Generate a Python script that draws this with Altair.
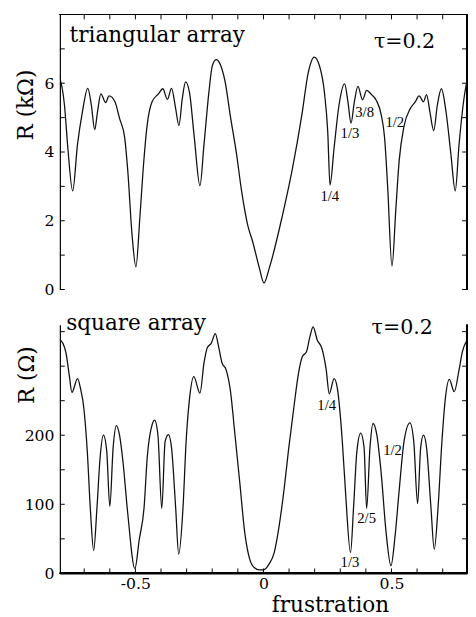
import altair as alt
import pandas as pd

# ---- data ----
tri_f = [-0.802, -0.777, -0.764, -0.745, -0.726, -0.707, -0.686, -0.672, -0.659, -0.648,
         -0.635, -0.616, -0.603, -0.58, -0.562, -0.542, -0.53, -0.513, -0.498, -0.483,
         -0.47, -0.454, -0.435, -0.41, -0.393, -0.375, -0.359, -0.343, -0.33, -0.317,
         -0.304, -0.289, -0.27, -0.248, -0.232, -0.213, -0.2, -0.185, -0.168, -0.149,
         -0.13, -0.105, -0.086, -0.061, -0.042, -0.016, 0.002, 0.023, 0.074, 0.112,
         0.15, 0.175, 0.198, 0.219, 0.238, 0.251, 0.26, 0.276, 0.295, 0.317,
         0.33, 0.342, 0.355, 0.369, 0.387, 0.403, 0.422, 0.441, 0.46, 0.473,
         0.485, 0.502, 0.517, 0.53, 0.549, 0.574, 0.593, 0.608, 0.625, 0.637,
         0.65, 0.665, 0.679, 0.695, 0.713, 0.732, 0.749, 0.764, 0.783, 0.796]
tri_r = [6.31, 5.36, 4.13, 2.87, 4.23, 5.17, 5.85, 5.36, 4.65, 5.17,
         5.69, 5.44, 5.63, 5.46, 4.98, 4.42, 3.47, 1.58, 0.66, 2.05,
         3.47, 4.79, 5.46, 5.69, 5.84, 5.53, 5.85, 5.27, 4.77, 5.55,
         6.04, 5.74, 4.42, 3.02, 4.23, 5.74, 6.5, 6.69, 6.54, 6.02,
         5.08, 3.94, 2.9, 1.86, 1.39, 0.63, 0.19, 0.63, 2.15, 3.47,
         5.08, 6.31, 6.76, 6.5, 5.74, 4.6, 3.04, 4.13, 5.36, 5.98,
         5.46, 4.84, 5.46, 5.91, 5.52, 5.79, 5.67, 5.5, 5.08, 4.42,
         3.0, 0.68, 2.33, 3.75, 4.75, 5.27, 5.46, 5.63, 5.46, 5.67,
         5.17, 4.62, 5.36, 5.84, 5.17, 3.94, 2.87, 4.23, 5.55, 6.12]

sq_f = [-0.802, -0.783, -0.771, -0.758, -0.748, -0.726, -0.714, -0.701, -0.688, -0.675,
        -0.663, -0.65, -0.638, -0.625, -0.612, -0.6, -0.587, -0.574, -0.562, -0.549,
        -0.53, -0.502, -0.485, -0.466, -0.454, -0.435, -0.425, -0.412, -0.397, -0.384,
        -0.371, -0.359, -0.343, -0.331, -0.314, -0.302, -0.289, -0.272, -0.248, -0.232,
        -0.219, -0.204, -0.188, -0.175, -0.162, -0.146, -0.13, -0.111, -0.092, -0.073,
        -0.054, -0.035, -0.016, 0.0, 0.023, 0.042, 0.061, 0.08, 0.099, 0.118,
        0.137, 0.152, 0.168, 0.181, 0.194, 0.21, 0.228, 0.245, 0.257, 0.276,
        0.289, 0.308, 0.321, 0.34, 0.352, 0.365, 0.38, 0.393, 0.403, 0.416,
        0.428, 0.443, 0.46, 0.479, 0.498, 0.514, 0.53, 0.549, 0.572, 0.587,
        0.602, 0.614, 0.625, 0.637, 0.654, 0.667, 0.682, 0.697, 0.71, 0.726,
        0.745, 0.764, 0.777, 0.796]
sq_r = [340, 333, 319, 286, 262, 282, 267, 238, 177, 87,
        33, 96, 167, 200, 177, 97, 182, 214, 200, 163,
        87, 7, 49, 96, 167, 215, 222, 200, 94, 191,
        201, 182, 96, 28, 96, 191, 252, 285, 261, 305,
        327, 333, 347, 328, 305, 295, 267, 200, 130, 59,
        21, 8, 5, 5, 14, 30, 68, 120, 182, 238,
        290, 314, 321, 342, 357, 338, 326, 295, 260, 282,
        267, 191, 115, 30, 96, 177, 203, 182, 94, 182,
        217, 200, 144, 59, 11, 54, 120, 191, 218, 191,
        101, 182, 200, 182, 96, 35, 96, 191, 252, 281,
        263, 295, 321, 338]

tri_lab_text = ["1/4", "1/3", "3/8", "1/2"]
tri_lab_f = [0.259, 0.338, 0.395, 0.513]
tri_lab_r = [2.72, 4.54, 5.16, 4.87]

sq_lab_text = ["1/4", "1/3", "2/5", "1/2"]
sq_lab_f = [0.247, 0.338, 0.403, 0.504]
sq_lab_r = [243, 16, 80, 179]

x_ticks = [-0.7, -0.6, -0.5, -0.4, -0.3, -0.2, -0.1, 0.0,
           0.1, 0.2, 0.3, 0.4, 0.5, 0.6, 0.7]
x_labels = [-0.5, 0.0, 0.5]
tri_y_ticks = [0, 1, 2, 3, 4, 5, 6, 7, 8]
tri_y_labels = [0, 2, 4, 6]
sq_y_ticks = [0, 50, 100, 150, 200, 250, 300, 350]
sq_y_labels = [0, 100, 200]

tri_titles = ["triangular array"]
tri_title_f = [-0.757]
tri_title_r = [7.4]
tri_tau_f = [0.551]
tri_tau_r = [7.2]
sq_titles = ["square array"]
sq_title_f = [-0.77]
sq_title_r = [362]
sq_tau_f = [0.542]
sq_tau_r = [355]

SERIF = "DejaVu Serif"
W = 416
TL = 5  # tick length (px)

xdom = alt.Scale(domain=[-0.795, 0.795], nice=False, zero=False)
tri_ydom = alt.Scale(domain=[0, 8], nice=False)
sq_ydom = alt.Scale(domain=[0, 360], nice=False)

tri_df = pd.DataFrame({"f": tri_f, "R": tri_r})
sq_df = pd.DataFrame({"f": sq_f, "R": sq_r})


def panel(df, ydom, yticks, ylabels, ytitle, title_x, title_y, top, lab, txt, tau, height):
    if top:
        xaxis = None
    else:
        xaxis = alt.Axis(orient="bottom", values=x_labels, ticks=False, labelOverlap=False,
                         labelFlush=False, labelPadding=3,
                         labelExpr="datum.value < 0 ? '-' + format(-datum.value, '.1~f') : format(datum.value, '.1~f')",
                         title="frustration", titleFontSize=22, titleX=276, titleY=32,
                         titleBaseline="middle", titleAlign="center")
    yaxis = alt.Axis(orient="left", values=ylabels, ticks=False, labelOverlap=False,
                     labelFlush=False, labelPadding=6, title=ytitle, titleFontSize=22,
                     titleX=title_x, titleY=title_y, titleBaseline="middle",
                     titleAlign="center", titleAngle=-90)

    line = alt.Chart(df).mark_line(color="#111", strokeWidth=1.3, interpolate="monotone",
                                   clip=True).encode(
        x=alt.X("f:Q", scale=xdom, axis=xaxis),
        y=alt.Y("R:Q", scale=ydom, axis=yaxis),
    )
    # inward ticks and frame
    xt = pd.DataFrame({"v": x_ticks})
    yt = pd.DataFrame({"v": yticks})
    if top:
        xtk = alt.Chart(xt).mark_rule(color="black", strokeWidth=1).encode(
            x=alt.X("v:Q", scale=xdom), y=alt.value(0), y2=alt.value(TL))
        hb = alt.Chart(xt).mark_rule(color="black", strokeWidth=1.2).encode(
            x=alt.value(0), x2=alt.value(W), y=alt.value(0))
    else:
        xtk = alt.Chart(xt).mark_rule(color="black", strokeWidth=1).encode(
            x=alt.X("v:Q", scale=xdom), y=alt.value(height), y2=alt.value(height - TL))
        hb = alt.Chart(xt).mark_rule(color="black", strokeWidth=1.2).encode(
            x=alt.value(0), x2=alt.value(W), y=alt.value(height))
    rb = alt.Chart(yt).mark_rule(color="black", strokeWidth=1.2).encode(
        x=alt.value(W), y=alt.value(0), y2=alt.value(height))
    ytl = alt.Chart(yt).mark_rule(color="black", strokeWidth=1).encode(
        y=alt.Y("v:Q", scale=ydom), x=alt.value(0), x2=alt.value(TL))
    ytr = alt.Chart(yt).mark_rule(color="black", strokeWidth=1).encode(
        y=alt.Y("v:Q", scale=ydom), x=alt.value(W), x2=alt.value(W - TL))

    labs = alt.Chart(pd.DataFrame(lab)).mark_text(
        font="Liberation Serif", fontSize=15, color="black", align="center", baseline="middle"
    ).encode(
        x=alt.X("f:Q", scale=xdom),
        y=alt.Y("R:Q", scale=ydom),
        text="t:N",
    )
    ttl = alt.Chart(pd.DataFrame(txt)).mark_text(
        font=SERIF, fontSize=22, color="black", align="left", baseline="middle"
    ).encode(
        x=alt.X("f:Q", scale=xdom),
        y=alt.Y("R:Q", scale=ydom),
        text="t:N",
    )
    tauc = alt.Chart(pd.DataFrame(tau)).mark_text(
        font=SERIF, fontSize=21, color="black", align="center", baseline="middle"
    ).encode(
        x=alt.X("f:Q", scale=xdom),
        y=alt.Y("R:Q", scale=ydom),
        text="t:N",
    )
    return alt.layer(line, xtk, hb, rb, ytl, ytr, labs, ttl, tauc).properties(
        width=W, height=height)


top = panel(tri_df, tri_ydom, tri_y_ticks, tri_y_labels, "R (kΩ)", -34.5, 92, True,
            {"f": tri_lab_f, "R": tri_lab_r, "t": tri_lab_text},
            {"f": tri_title_f, "R": tri_title_r, "t": tri_titles},
            {"f": tri_tau_f, "R": tri_tau_r, "t": ["τ=0.2"]}, 281)
bottom = panel(sq_df, sq_ydom, sq_y_ticks, sq_y_labels, "R (Ω)", -33.5, 51, False,
               {"f": sq_lab_f, "R": sq_lab_r, "t": sq_lab_text},
               {"f": sq_title_f, "R": sq_title_r, "t": sq_titles},
               {"f": sq_tau_f, "R": sq_tau_r, "t": ["τ=0.2"]}, 254)

chart = alt.vconcat(top, bottom, spacing=15).properties(
    padding={"left": 7, "top": -1, "right": 0, "bottom": -4},
    background="white",
).configure_view(stroke=None).configure_axis(
    grid=False, domainColor="black", domainWidth=1.2,
    labelFont=SERIF, labelFontSize=16, labelColor="black",
    titleFont=SERIF, titleFontWeight="normal", titleColor="black",
)

chart.save("out.html", embed_options={"renderer": "svg", "actions": False})
